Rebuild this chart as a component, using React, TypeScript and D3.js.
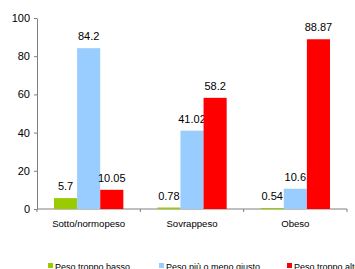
import React, { useEffect, useRef } from "react";
import * as d3 from "d3";

// categories on the x axis
const categories = ["Sotto/normopeso", "Sovrappeso", "Obeso"];
// the three series (legend order)
const seriesNames = ["Peso troppo basso", "Peso più o meno giusto", "Peso troppo alto"];
const seriesColors = ["#99cc00", "#99ccff", "#ff0000"];
// values per series, one per category
const tooLow = [5.7, 0.78, 0.54];
const aboutRight = [84.2, 41.02, 10.6];
const tooHigh = [10.05, 58.2, 88.87];
const yTicks = [0, 20, 40, 60, 80, 100];

export default function App() {
  const ref = useRef<SVGSVGElement>(null);

  useEffect(() => {
    const svg = d3.select(ref.current);
    svg.selectAll("*").remove();

    const width = 355;
    const left = 37, right = 347, top = 18, bottom = 209;
    const font = "Liberation Sans, Arial, sans-serif";

    const seriesValues = [tooLow, aboutRight, tooHigh];

    const x = d3.scaleBand().domain(categories).range([left, right]);
    // bars inside each category band
    const xInner = d3.scaleBand()
      .domain(seriesNames)
      .range([17, x.bandwidth() - 17]);
    const y = d3.scaleLinear().domain([0, 100]).range([bottom, top]);

    // y axis
    const yAxis = svg.append("g")
      .attr("transform", `translate(${left},0)`)
      .call(d3.axisLeft(y).tickValues(yTicks).tickSize(3).tickSizeOuter(0).tickPadding(4));
    yAxis.select(".domain").attr("stroke", "#808080");
    yAxis.selectAll(".tick line").attr("stroke", "#808080");
    yAxis.selectAll(".tick text")
      .attr("font-family", font)
      .attr("font-size", 11)
      .attr("fill", "#000");

    // x axis line + ticks at band edges
    svg.append("line")
      .attr("x1", left).attr("x2", right)
      .attr("y1", bottom).attr("y2", bottom)
      .attr("stroke", "#808080");
    const edges = categories.map(c => x(c)!).concat([right]);
    svg.selectAll(".xtick")
      .data(edges)
      .join("line")
      .attr("class", "xtick")
      .attr("x1", d => d).attr("x2", d => d)
      .attr("y1", bottom).attr("y2", bottom + 3)
      .attr("stroke", "#808080");

    // category labels
    svg.selectAll(".cat")
      .data(categories)
      .join("text")
      .attr("class", "cat")
      .attr("x", d => x(d)! + x.bandwidth() / 2)
      .attr("y", 227)
      .attr("text-anchor", "middle")
      .attr("font-family", font)
      .attr("font-size", 9.6)
      .text(d => d);

    // bars + value labels
    seriesNames.forEach((name, si) => {
      const rows = categories.map((c, ci) => ({ c, v: seriesValues[si][ci] }));
      const g = svg.append("g");
      g.selectAll("rect")
        .data(rows)
        .join("rect")
        .attr("x", d => x(d.c)! + xInner(name)!)
        .attr("y", d => y(d.v))
        .attr("width", xInner.bandwidth())
        .attr("height", d => bottom - y(d.v))
        .attr("fill", seriesColors[si]);
      g.selectAll("text")
        .data(rows)
        .join("text")
        .attr("x", d => x(d.c)! + xInner(name)! + xInner.bandwidth() / 2)
        .attr("y", d => y(d.v) - 8)
        .attr("text-anchor", "middle")
        .attr("font-family", font)
        .attr("font-size", 11)
        .text(d => String(d.v));
    });

    // legend
    const legendX = [48, 159, 287];
    const legend = svg.selectAll(".leg")
      .data(seriesNames)
      .join("g")
      .attr("class", "leg")
      .attr("transform", (d, i) => `translate(${legendX[i]},263)`);
    legend.append("rect")
      .attr("width", 5).attr("height", 5)
      .attr("fill", (d, i) => seriesColors[i]);
    legend.append("text")
      .attr("x", 7)
      .attr("y", 7)
      .attr("font-family", font)
      .attr("font-size", 9)
      .text(d => d);

    svg.attr("width", width);
  }, []);

  return (
    <svg
      ref={ref}
      width={355}
      height={269}
      style={{ position: "absolute", left: 0, top: 0, background: "#fff" }}
    />
  );
}
